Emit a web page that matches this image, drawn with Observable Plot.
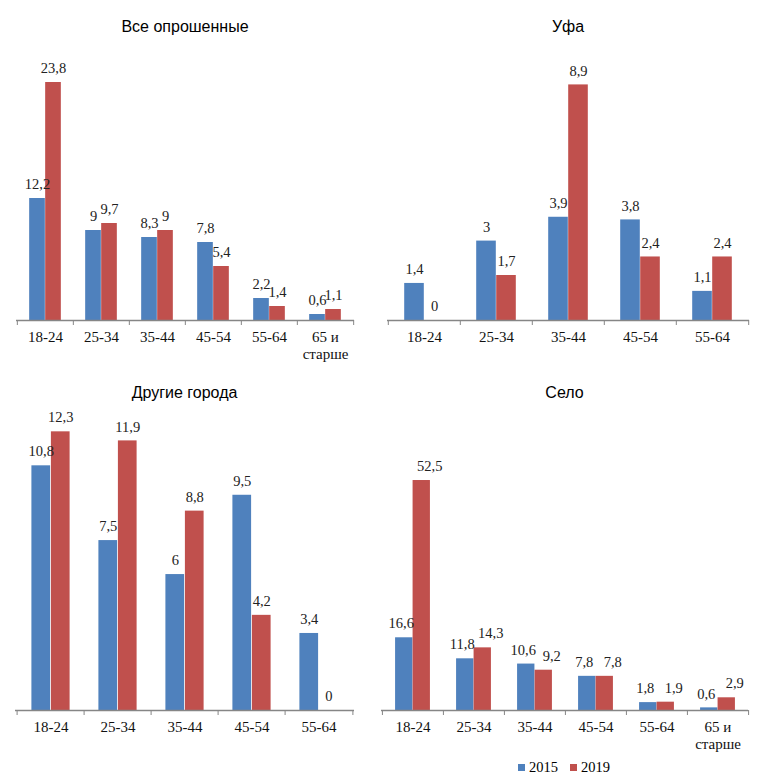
<!DOCTYPE html>
<html><head><meta charset="utf-8">
<script src="https://cdn.jsdelivr.net/npm/d3@7"></script>
<script src="https://cdn.jsdelivr.net/npm/@observablehq/plot@0.6"></script>
<style>
body{margin:0;background:#fff;}
#wrap{position:relative;width:765px;height:783px;overflow:hidden;}
.title{position:absolute;font-family:"Liberation Sans",Arial,sans-serif;font-size:16px;color:#000;text-align:center;transform:translate(-50%,-50%);white-space:nowrap;}
.panel{position:absolute;font-family:"Liberation Serif","Times New Roman",serif;}
.panel text{font-family:"Liberation Serif","Times New Roman",serif;}
#legend{position:absolute;top:759px;left:518px;font-family:"Liberation Serif","Times New Roman",serif;font-size:14.5px;display:flex;align-items:center;gap:4px;}
.sw{display:inline-block;width:7px;height:7px;}
</style></head>
<body><div id="wrap"></div>
<script>
// ---- data ----
const categories6 = ["18-24", "25-34", "35-44", "45-54", "55-64", "65 и\nстарше"];
const categories5 = ["18-24", "25-34", "35-44", "45-54", "55-64"];
const years = ["2015", "2019"];
const colors = ["#4F81BD", "#C0504D"];

const titleAll = "Все опрошенные";
const all2015 = [12.2, 9, 8.3, 7.8, 2.2, 0.6];
const all2019 = [23.8, 9.7, 9, 5.4, 1.4, 1.1];

const titleUfa = "Уфа";
const ufa2015 = [1.4, 3, 3.9, 3.8, 1.1];
const ufa2019 = [0, 1.7, 8.9, 2.4, 2.4];

const titleOther = "Другие города";
const other2015 = [10.8, 7.5, 6, 9.5, 3.4];
const other2019 = [12.3, 11.9, 8.8, 4.2, 0];

const titleSelo = "Село";
const selo2015 = [16.6, 11.8, 10.6, 7.8, 1.8, 0.6];
const selo2019 = [52.5, 14.3, 9.2, 7.8, 1.9, 2.9];

const fmt = v => String(v).replace(".", ",");
const serif = "Liberation Serif, Times New Roman, serif";

function panel(cfg) {
  const {cats, v15, v19, left, top, width, height, ml, mr, mt, mb, ymax, pair, title} = cfg;
  const lblA = cfg.lblA ?? 0, lblB = cfg.lblB ?? 0;
  const plotW = width - ml - mr;
  const plotH = height - mt - mb;
  const step = plotW / cats.length;
  const half = step / 2;
  const rows = cats.map((c, i) => ({cat: c, a: v15[i], b: v19[i]}));
  const chart = Plot.plot({
    width, height,
    marginLeft: ml, marginRight: mr, marginTop: mt, marginBottom: mb,
    x: {domain: cats, padding: 0, axis: null},
    y: {domain: [0, ymax], axis: null},
    style: {background: "transparent", overflow: "visible", fontFamily: serif},
    marks: [
      Plot.barY(rows, {x: "cat", y: "a", fill: colors[0], insetLeft: half - pair / 2, insetRight: half}),
      Plot.barY(rows, {x: "cat", y: "b", fill: colors[1], insetLeft: half, insetRight: half - pair / 2}),
      Plot.ruleY([0], {stroke: "#868686", strokeWidth: 1.3}),
      Plot.ruleX(rows, {x: "cat", dx: -half, stroke: "#868686", insetTop: plotH, insetBottom: -5}),
      Plot.ruleX(rows.slice(-1), {x: "cat", dx: half, stroke: "#868686", insetTop: plotH, insetBottom: -5}),
      Plot.text(rows, {x: "cat", y: "a", text: d => fmt(d.a), dx: -pair / 4 + lblA, dy: -14, fontFamily: serif, fontSize: 14.5, fill: "#222"}),
      Plot.text(rows, {x: "cat", y: "b", text: d => fmt(d.b), dx: pair / 4 + lblB, dy: -14, fontFamily: serif, fontSize: 14.5, fill: "#222"}),
      Plot.text(rows, {x: "cat", y: () => 0, text: "cat", dy: 10, lineAnchor: "top", lineHeight: 1.1, fontFamily: serif, fontSize: 15, fill: "#111"})
    ]
  });
  chart.classList.add("panel");
  chart.style.left = left + "px";
  chart.style.top = top + "px";
  const wrap = document.getElementById("wrap");
  wrap.appendChild(chart);
  const t = document.createElement("div");
  t.className = "title";
  t.textContent = title;
  t.style.left = (left + ml + plotW / 2) + "px";
  t.style.top = cfg.titleY + "px";
  wrap.appendChild(t);
}

panel({cats: categories6, v15: all2015, v19: all2019, title: titleAll, titleY: 27,
  left: 0, top: 40, width: 375, height: 330, ml: 16, mr: 21, mt: 10, mb: 50, ymax: 27, pair: 32});
panel({cats: categories5, v15: ufa2015, v19: ufa2019, title: titleUfa, titleY: 27,
  left: 380, top: 40, width: 385, height: 330, ml: 7, mr: 16, mt: 10, mb: 50, ymax: 10.2, pair: 40});
panel({cats: categories5, v15: other2015, v19: other2019, title: titleOther, titleY: 393,
  left: 0, top: 410, width: 375, height: 345, ml: 15, mr: 21, mt: 10, mb: 45, ymax: 12.8, pair: 39});
panel({cats: categories6, v15: selo2015, v19: selo2019, title: titleSelo, titleY: 393,
  left: 380, top: 410, width: 385, height: 345, ml: 1, mr: 17, mt: 10, mb: 45, ymax: 66.2, pair: 35,
  lblA: -3, lblB: 8});

// legend
const lg = document.createElement("div");
lg.id = "legend";
years.forEach((y, i) => {
  const s = document.createElement("span"); s.className = "sw"; s.style.background = colors[i];
  const t = document.createElement("span"); t.textContent = y; t.style.marginRight = i === 0 ? "8px" : "0";
  lg.appendChild(s); lg.appendChild(t);
});
document.getElementById("wrap").appendChild(lg);
</script>
</body></html>
